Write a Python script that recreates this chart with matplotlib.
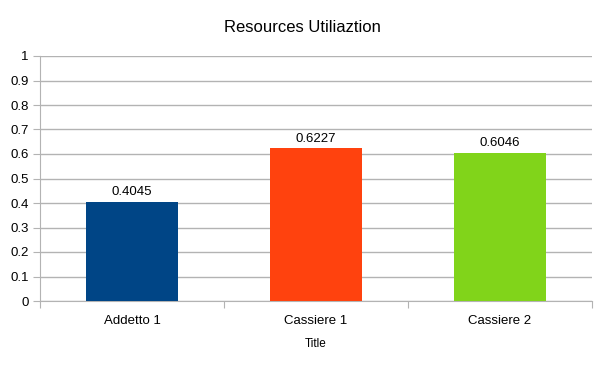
import numpy as np
import matplotlib.pyplot as plt

categories = ['Addetto 1', 'Cassiere 1', 'Cassiere 2']
values = [0.4045, 0.6227, 0.6046]
labels = ['0.4045', '0.6227', '0.6046']
colors = ['#004586', '#ff420e', '#81d41a']

plt.rcParams['font.family'] = ['Liberation Sans', 'DejaVu Sans']

fig = plt.figure(figsize=(6.05, 3.71), dpi=100)
ax = fig.add_axes([40 / 605, 70 / 371, 552 / 605, 245 / 371])

x = np.arange(len(categories))
bars = ax.bar(x, values, width=0.5, color=colors, zorder=3)
for b, lab in zip(bars, labels):
    ax.text(b.get_x() + b.get_width() / 2, b.get_height() + 0.015, lab,
            ha='center', va='bottom', fontsize=9.5, color='#000000')

ax.set_xlim(-0.5, len(categories) - 0.5)
ax.set_ylim(0, 1)
ax.set_yticks(np.arange(0, 1.01, 0.1))
ax.set_yticklabels(['0', '0.1', '0.2', '0.3', '0.4', '0.5', '0.6', '0.7', '0.8', '0.9', '1'])
ax.yaxis.grid(True, color='#b3b3b3', linewidth=1, zorder=0)

# category labels centred, ticks on the boundaries
ax.set_xticks(np.arange(-0.5, len(categories), 1.0))
ax.set_xticklabels([])
ax.set_xticks(x, minor=True)
ax.set_xticklabels(categories, minor=True)
ax.tick_params(axis='x', which='minor', length=0, labelsize=9.5, pad=10)
ax.tick_params(axis='x', which='major', length=5, color='#b3b3b3', direction='out')
ax.tick_params(axis='y', length=5, color='#b3b3b3', labelsize=9.5, pad=3, labelcolor='#000000')

for s in ['top', 'right']:
    ax.spines[s].set_visible(False)
for s in ['left', 'bottom']:
    ax.spines[s].set_color('#b3b3b3')

ax.set_xlabel('Title', fontsize=8.5, labelpad=8)
fig.suptitle('Resources Utiliaztion', fontsize=12, y=0.945)

fig.savefig('out.png', dpi=100)
